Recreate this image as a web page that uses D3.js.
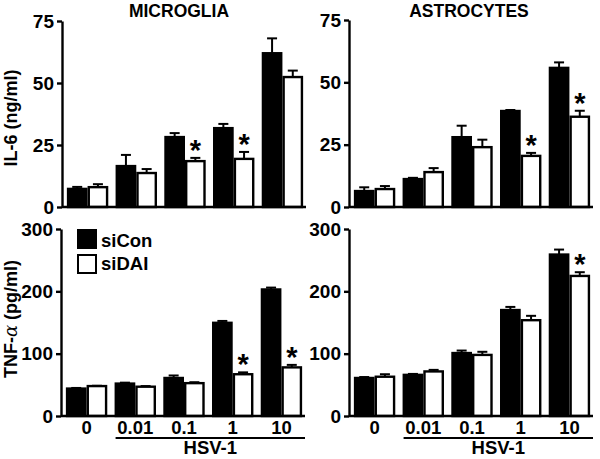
<!DOCTYPE html>
<html>
<head>
<meta charset="utf-8">
<script src="https://cdn.jsdelivr.net/npm/d3@7"></script>
<style>
  html, body { margin: 0; padding: 0; background: #fff; }
  text { font-family: "Liberation Sans", Arial, Helvetica, sans-serif; font-weight: bold; }
</style>
</head>
<body>
<svg id="chart" width="600" height="459"></svg>
<script>
// ---- Data ----
const doses = ["0", "0.01", "0.1", "1", "10"];
const seriesNames = ["siCon", "siDAI"];
const il6Ticks = [0, 25, 50, 75];
const tnfTicks = [0, 100, 200, 300];

// IL-6 (ng/ml), microglia
const micIL6Con = [7.3, 16.5, 28.2, 31.8, 62];
const micIL6ConErr = [0.8, 4.5, 1.6, 1.7, 6];
const micIL6DAI = [8, 13.7, 18.5, 19.4, 52.4];
const micIL6DAIErr = [1.2, 1.6, 1.3, 2.8, 2.6];
const micIL6Stars = [2, 3];

// IL-6 (ng/ml), astrocytes
const astIL6Con = [6.4, 11.2, 28, 38.5, 55.8];
const astIL6ConErr = [1.5, 0.5, 4.6, 0.4, 2.2];
const astIL6DAI = [7.2, 14, 24, 20.5, 36.2];
const astIL6DAIErr = [1.2, 1.6, 3, 1.2, 2.4];
const astIL6Stars = [3, 4];

// TNF-alpha (pg/ml), microglia
const micTNFCon = [44, 52, 61, 149.5, 203];
const micTNFConErr = [1, 1.5, 4, 3, 3];
const micTNFDAI = [48, 47, 52.7, 67, 78];
const micTNFDAIErr = [0.5, 1, 1.5, 3, 4];
const micTNFStars = [3, 4];

// TNF-alpha (pg/ml), astrocytes
const astTNFCon = [61, 66, 101, 170, 259];
const astTNFConErr = [1.5, 1.5, 4, 5, 8];
const astTNFDAI = [63, 71.5, 98, 153.7, 224.7];
const astTNFDAIErr = [4, 2.5, 5, 7, 6];
const astTNFStars = [4];

// ---- Drawing ----
const svg = d3.select("#chart");

function panel(opts) {
  const g = svg.append("g");
  const x = d3.scaleBand().domain(doses).range([opts.x0, opts.x1])
    .paddingInner(0.15).paddingOuter(0.1);
  const xs = d3.scaleBand().domain(seriesNames).range([0, x.bandwidth()]);
  const y = d3.scaleLinear().domain([0, opts.max]).range([opts.y0, opts.y1]);

  const series = [
    { name: "siCon", vals: opts.con, errs: opts.conErr, fill: "#000" },
    { name: "siDAI", vals: opts.dai, errs: opts.daiErr, fill: "#fff" }
  ];

  series.forEach(s => {
    const sg = g.append("g");
    sg.selectAll("line.err").data(doses).join("line")
      .attr("x1", (d) => x(d) + xs(s.name) + xs.bandwidth() / 2)
      .attr("x2", (d) => x(d) + xs(s.name) + xs.bandwidth() / 2)
      .attr("y1", (d, i) => y(s.vals[i]))
      .attr("y2", (d, i) => y(s.vals[i] + s.errs[i]))
      .attr("stroke", "#000").attr("stroke-width", 2);
    sg.selectAll("line.cap").data(doses).join("line")
      .attr("x1", (d) => x(d) + xs(s.name) + xs.bandwidth() / 2 - 5)
      .attr("x2", (d) => x(d) + xs(s.name) + xs.bandwidth() / 2 + 5)
      .attr("y1", (d, i) => y(s.vals[i] + s.errs[i]))
      .attr("y2", (d, i) => y(s.vals[i] + s.errs[i]))
      .attr("stroke", "#000").attr("stroke-width", 2);
    sg.selectAll("rect").data(doses).join("rect")
      .attr("x", (d) => x(d) + xs(s.name) + 1.2)
      .attr("width", xs.bandwidth() - 2.4)
      .attr("y", (d, i) => y(s.vals[i]))
      .attr("height", (d, i) => opts.y0 - y(s.vals[i]))
      .attr("fill", s.fill).attr("stroke", "#000").attr("stroke-width", 2.4);
  });

  g.selectAll("text.star").data(opts.stars).join("text")
    .attr("class", "star")
    .attr("x", i => x(doses[i]) + xs("siDAI") + xs.bandwidth() / 2)
    .attr("y", i => y(opts.dai[i] + opts.daiErr[i]) + 2)
    .attr("text-anchor", "middle")
    .attr("font-size", 29)
    .text("*");

  const yAxis = d3.axisLeft(y).tickValues(opts.ticks).tickSize(5).tickPadding(3).tickSizeOuter(0);
  const ya = g.append("g").attr("transform", `translate(${opts.x0},0)`).call(yAxis);
  ya.select(".domain").attr("stroke-width", 2.4);
  ya.selectAll(".tick line").attr("stroke-width", 2.4);
  ya.selectAll(".tick text").attr("font-size", 19).attr("font-family", null).attr("fill", "#000");

  g.append("line").attr("x1", opts.x0).attr("x2", opts.x1 - 2)
    .attr("y1", opts.y0).attr("y2", opts.y0)
    .attr("stroke", "#000").attr("stroke-width", 2.4);

  if (opts.title) {
    g.append("text").attr("x", opts.titleX).attr("y", 17)
      .attr("text-anchor", "middle").attr("font-size", 17.5).text(opts.title);
  }

  if (opts.xlabels) {
    g.selectAll("text.xl").data(doses).join("text")
      .attr("class", "xl")
      .attr("x", d => x(d) + x.bandwidth() / 2)
      .attr("y", opts.y0 + 18)
      .attr("text-anchor", "middle").attr("font-size", 18.5).text(d => d);
    const ux0 = x(doses[1]) + 1, ux1 = opts.x1 - 2;
    g.append("line").attr("x1", ux0).attr("x2", ux1)
      .attr("y1", opts.y0 + 22).attr("y2", opts.y0 + 22)
      .attr("stroke", "#000").attr("stroke-width", 2);
    g.append("text").attr("x", (ux0 + ux1) / 2).attr("y", opts.y0 + 38)
      .attr("text-anchor", "middle").attr("font-size", 18.5).text("HSV-1");
  }
  return { x, y };
}

panel({ x0: 62, x1: 308, y0: 207, y1: 21, max: 75, ticks: il6Ticks,
  con: micIL6Con, conErr: micIL6ConErr, dai: micIL6DAI, daiErr: micIL6DAIErr,
  stars: micIL6Stars, title: "MICROGLIA", titleX: 179 });
panel({ x0: 349, x1: 595, y0: 207, y1: 20, max: 75, ticks: il6Ticks,
  con: astIL6Con, conErr: astIL6ConErr, dai: astIL6DAI, daiErr: astIL6DAIErr,
  stars: astIL6Stars, title: "ASTROCYTES", titleX: 469 });
panel({ x0: 61, x1: 307, y0: 416, y1: 229, max: 300, ticks: tnfTicks,
  con: micTNFCon, conErr: micTNFConErr, dai: micTNFDAI, daiErr: micTNFDAIErr,
  stars: micTNFStars, xlabels: true });
panel({ x0: 349, x1: 595, y0: 416, y1: 229, max: 300, ticks: tnfTicks,
  con: astTNFCon, conErr: astTNFConErr, dai: astTNFDAI, daiErr: astTNFDAIErr,
  stars: astTNFStars, xlabels: true });

svg.append("text").attr("transform", "translate(17,118) rotate(-90)")
  .attr("text-anchor", "middle").attr("font-size", 18).text("IL-6 (ng/ml)");
const tnf = svg.append("text").attr("transform", "translate(17,319) rotate(-90)")
  .attr("text-anchor", "middle").attr("font-size", 18);
tnf.append("tspan").text("TNF-");
tnf.append("tspan").attr("font-family", "'DejaVu Serif', 'Liberation Serif', serif")
  .attr("font-weight", "normal").attr("font-style", "italic").text("α");
tnf.append("tspan").text(" (pg/ml)");

const legend = svg.append("g");
seriesNames.forEach((n, i) => {
  legend.append("rect").attr("x", 78).attr("y", 230 + i * 25)
    .attr("width", 18).attr("height", 18)
    .attr("fill", i === 0 ? "#000" : "#fff").attr("stroke", "#000").attr("stroke-width", 2);
  legend.append("text").attr("x", 101).attr("y", 247 + i * 23)
    .attr("font-size", 18.5).text(n);
});
</script>
</body>
</html>
